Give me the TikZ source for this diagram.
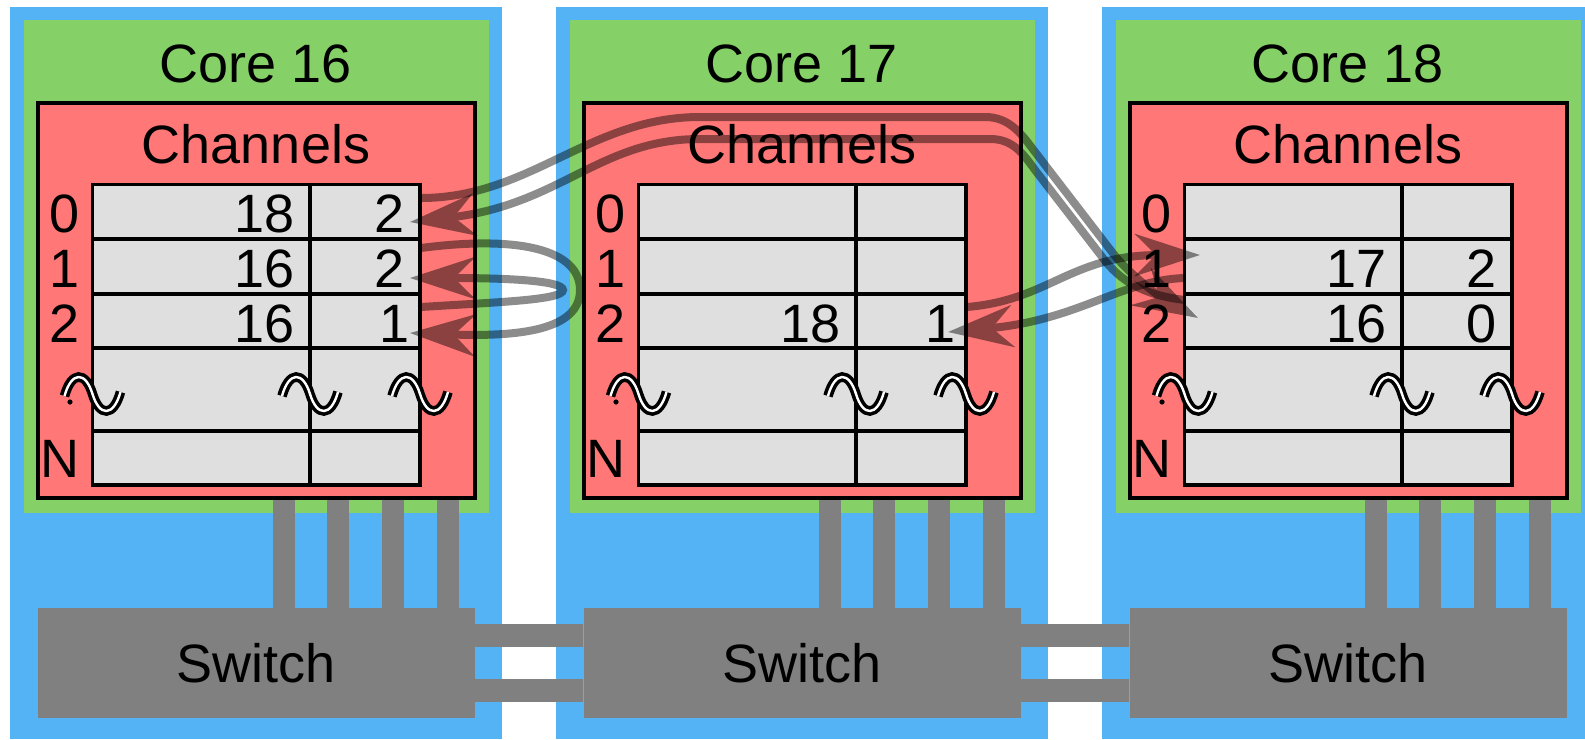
\documentclass[tikz,border=0pt]{standalone}
\usepackage{fontspec}
\setmainfont{Liberation Sans}
\usetikzlibrary{arrows.meta}
\definecolor{bluec}{RGB}{83,179,245}
\definecolor{greenc}{RGB}{133,209,104}
\definecolor{redc}{RGB}{255,119,119}
\definecolor{grayc}{RGB}{128,128,128}
\definecolor{tablec}{RGB}{223,223,223}
\newcommand\brkmark[2]{\draw[breakmark] (#1-28,#2+2) .. controls (#1-21,#2-23) and (#1-7,#2-23) .. (#1,#2) .. controls (#1+7,#2+23) and (#1+21,#2+23) .. (#1+28,#2-2);}
\begin{document}
\begin{tikzpicture}[x=1pt,y=-1pt,
  bigtext/.style={font=\fontsize{54}{64}\selectfont, inner sep=0pt},
  title/.style={bigtext, anchor=base},
  num/.style={bigtext, anchor=base east},
  grid/.style={line width=3.8pt, draw=black},
  busbar/.style={line width=23pt, grayc},
  switchbox/.style={bigtext, fill=grayc, minimum width=437pt, minimum height=110pt},
  link/.style={line width=8pt, black, -{Stealth[length=65pt,width=42pt,inset=21pt]}},
  breakmark/.style={line width=3.6pt, draw=black, double=white, double distance=2.4pt},
  ghost/.style={transparency group, opacity=0.45}]
\useasboundingbox (0,0) rectangle (1585,739);
\fill[white] (0,0) rectangle (1585,739);
\foreach \dx/\c in {0/16,546/17,1092/18} {
  \fill[bluec] (9.6+\dx,7) rectangle (502+\dx,739);
  \fill[greenc] (23.7+\dx,20) rectangle (489+\dx,513);
  \foreach \bx in {283.5,338,393,448}
    \draw[line width=22pt, grayc] (\bx+\dx,496) -- (\bx+\dx,610);
  \filldraw[fill=redc, draw=black, line width=4pt] (38.4+\dx,103) rectangle (474.5+\dx,498);
  \node[title] (core\c) at (256+\dx,82) {Core \c};
  \node[title] (chan\c) at (256+\dx,163) {Channels};
  \filldraw[grid, fill=tablec] (92.5+\dx,184.5) rectangle (420+\dx,485);
  \foreach \ry in {239,294,348,431}
    \draw[grid] (92.5+\dx,\ry) -- (420+\dx,\ry);
  \draw[grid] (310+\dx,184.5) -- (310+\dx,485);
  \node[num] (r0l\c) at (80+\dx,232) {0};
  \node[num] (r1l\c) at (80+\dx,287.5) {1};
  \node[num] (r2l\c) at (80+\dx,342) {2};
  \node[num] (rNl\c) at (80+\dx,477) {N};
  \fill[black] (70+\dx,402) circle (2.6);
  \brkmark{92.5+\dx}{394}
  \brkmark{310+\dx}{394}
  \brkmark{420+\dx}{394}
  \node[switchbox] (sw\c) at (256+\dx,663) {Switch};
}
% switch-to-switch links
\draw[busbar] ([yshift=27.5pt]sw16.east) -- ([yshift=27.5pt]sw17.west);
\draw[busbar] ([yshift=-27.5pt]sw16.east) -- ([yshift=-27.5pt]sw17.west);
\draw[busbar] ([yshift=27.5pt]sw17.east) -- ([yshift=27.5pt]sw18.west);
\draw[busbar] ([yshift=-27.5pt]sw17.east) -- ([yshift=-27.5pt]sw18.west);
% table contents
\node[num] (c16r0a) at (295,232) {18};
\node[num] (c16r0b) at (405,232) {2};
\node[num] (c16r1a) at (295,287.5) {16};
\node[num] (c16r1b) at (405,287.5) {2};
\node[num] (c16r2a) at (295,342) {16};
\node[num] (c16r2b) at (410,342) {1};
\node[num] (c17r2a) at (841,342) {18};
\node[num] (c17r2b) at (956,342) {1};
\node[num] (c18r1a) at (1387,287.5) {17};
\node[num] (c18r1b) at (1497,287.5) {2};
\node[num] (c18r2a) at (1387,342) {16};
\node[num] (c18r2b) at (1497,342) {0};
% connector end points
\coordinate (a16r0) at (421,198);
\coordinate (h16r0) at (410,222);
\coordinate (a16r1) at (421,248);
\coordinate (h16r1) at (410,278);
\coordinate (a16r2) at (421,307);
\coordinate (h16r2) at (410,333);
\coordinate (a17r2) at (967,307);
\coordinate (h17r2) at (948,332);
\coordinate (a18r1) at (1185,278);
\coordinate (h18r1) at (1200,255);
\coordinate (a18r2) at (1185,300);
\coordinate (h18r2) at (1198,318);
% connectors
\begin{scope}[ghost]
\draw[link] (a16r0) .. controls (530,198) and (590,117) .. (700,117) -- (985,117) .. controls (1008,117) and (1020,132) .. (1032,148) -- (1112,252) .. controls (1130,276) and (1165,300) .. (h18r2);
\end{scope}
\begin{scope}[ghost]
\draw[link] (a18r2) .. controls (1150,296) and (1125,285) .. (1106,262) -- (1035,170) .. controls (1022,152) and (1012,139) .. (990,139) -- (700,139) .. controls (600,139) and (560,205) .. (h16r0);
\end{scope}
\begin{scope}[ghost]
\draw[link] (a16r1) .. controls (520,235) and (580,250) .. (580,290) .. controls (580,330) and (520,337) .. (h16r2);
\end{scope}
\begin{scope}[ghost]
\draw[link] (a16r2) .. controls (500,302) and (563,300) .. (563,290) .. controls (563,280) and (500,278) .. (h16r1);
\end{scope}
\begin{scope}[ghost]
\draw[link] (a17r2) .. controls (1050,300) and (1070,255) .. (h18r1);
\end{scope}
\begin{scope}[ghost]
\draw[link] (a18r1) .. controls (1120,280) and (1080,320) .. (h17r2);
\end{scope}
\end{tikzpicture}
\end{document}
